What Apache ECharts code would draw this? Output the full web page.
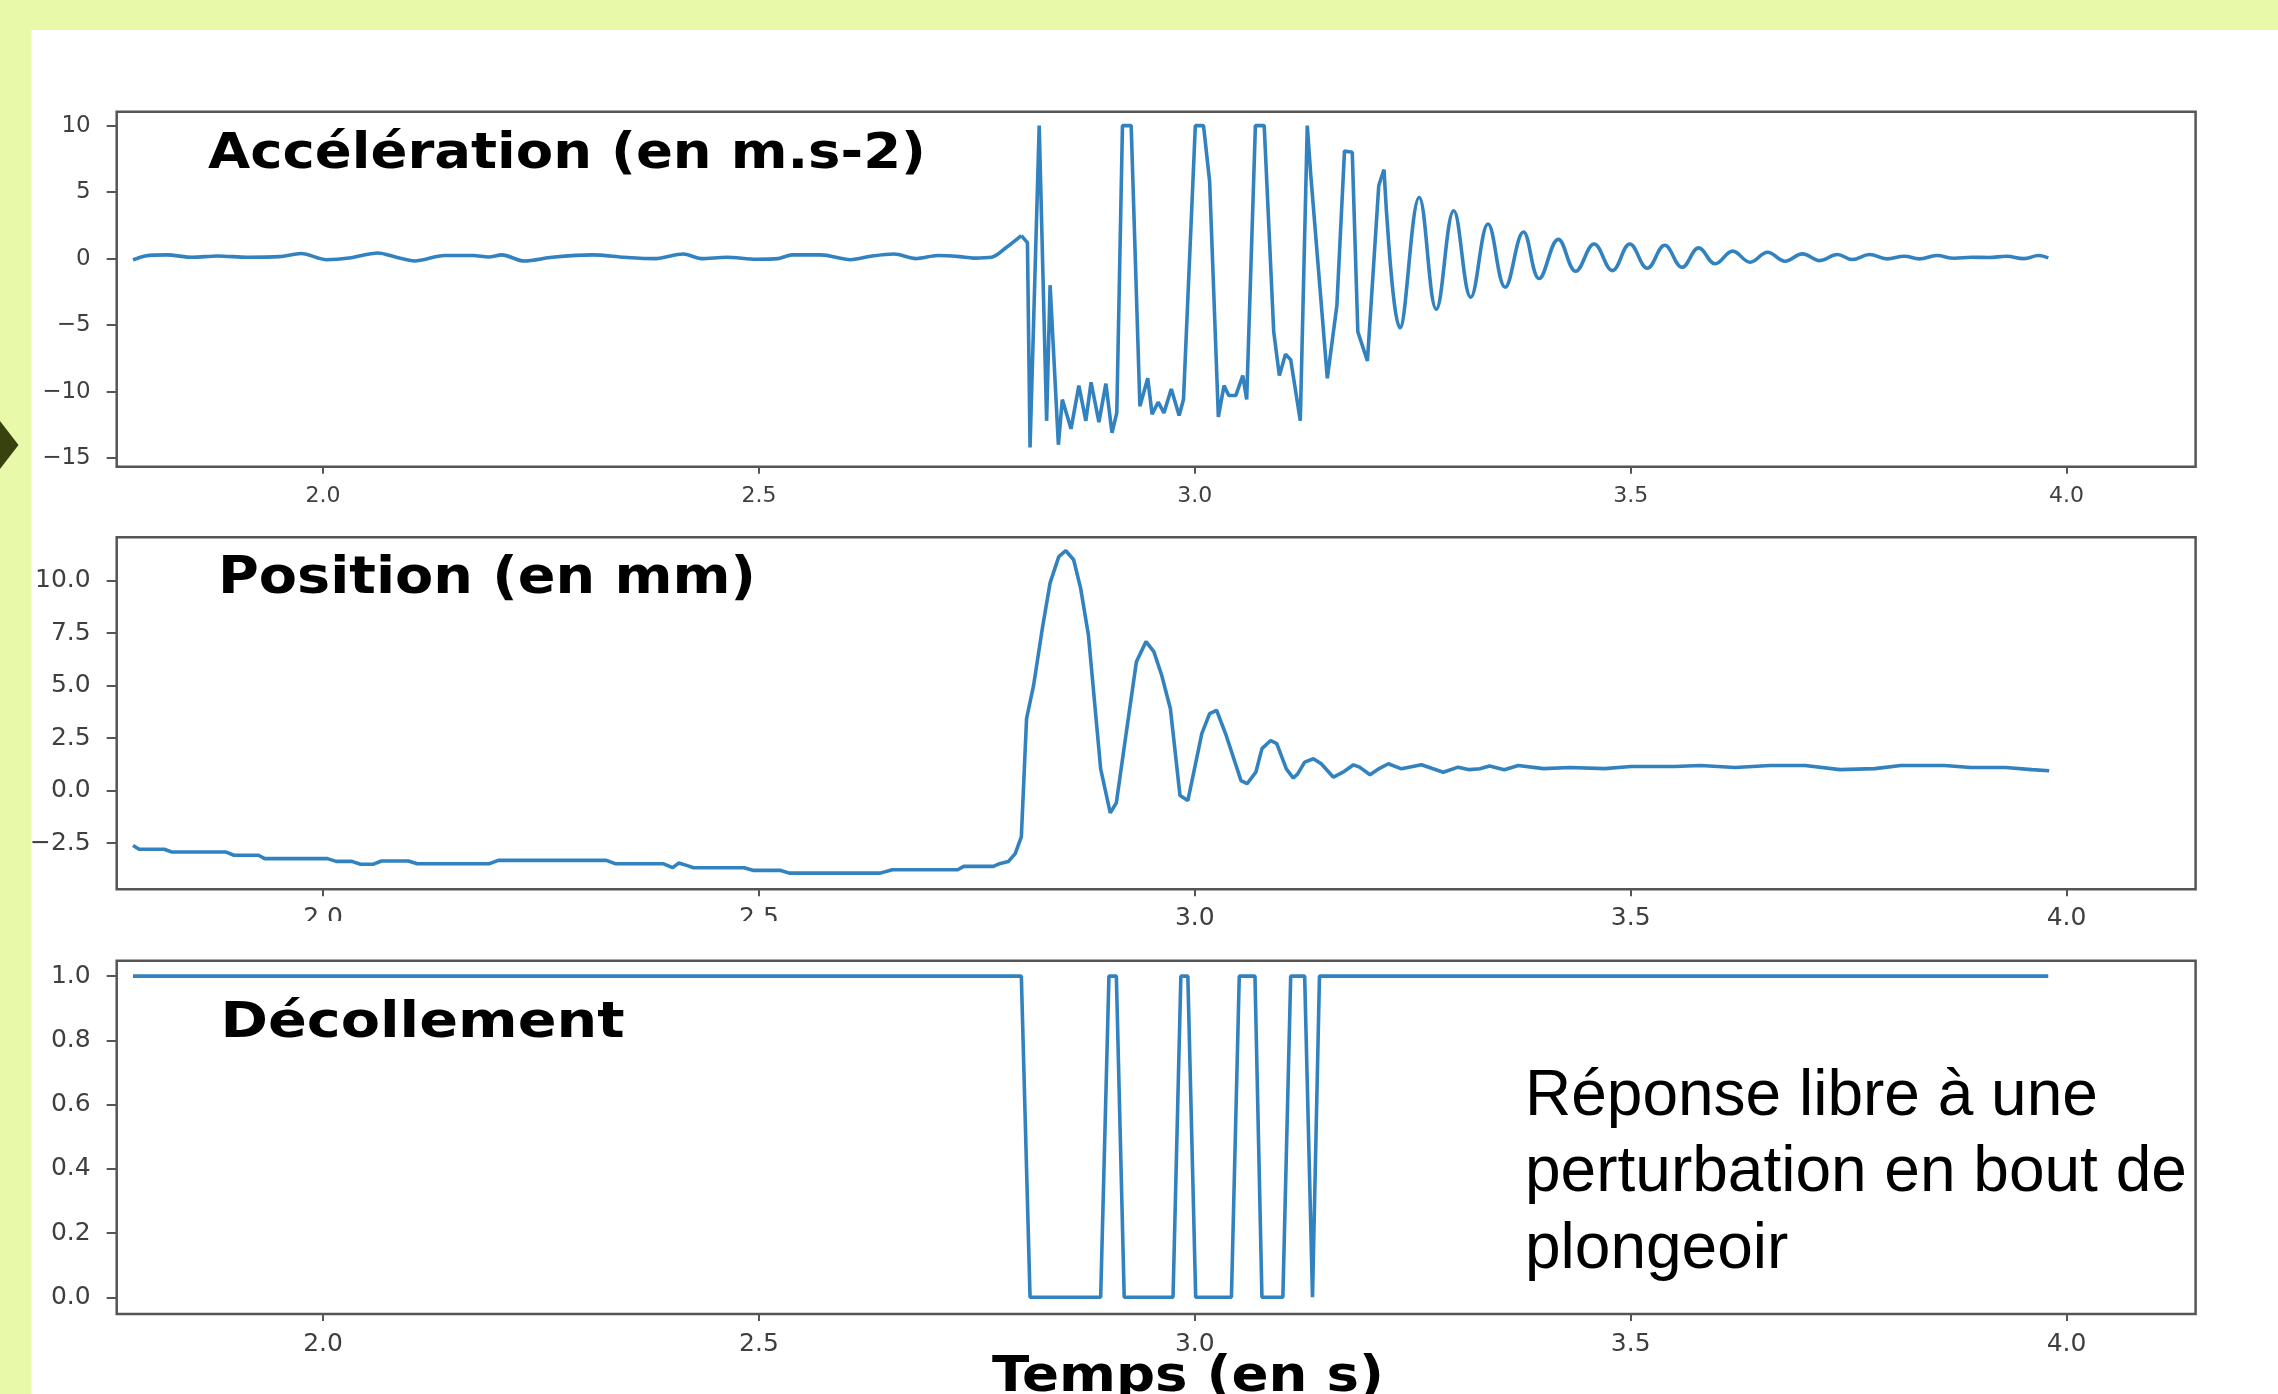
<!DOCTYPE html>
<html>
<head>
<meta charset="utf-8">
<script src="https://cdn.jsdelivr.net/npm/echarts@6.0.0/dist/echarts.min.js"></script>
<style>
  html, body { margin: 0; padding: 0; background: #e8f9a9; overflow: hidden; }
  #chart { width: 2278px; height: 1394px; }
</style>
</head>
<body>
<div id="chart"></div>
<script>
// ---------- data ----------
const xTickValues = [2.0, 2.5, 3.0, 3.5, 4.0];
const xTickLabels = ['2.0', '2.5', '3.0', '3.5', '4.0'];

const accTickValues = [-15, -10, -5, 0, 5, 10];
const accTickLabels = ['\u221215', '\u221210', '\u22125', '0', '5', '10'];
const posTickValues = [-2.5, 0, 2.5, 5, 7.5, 10];
const posTickLabels = ['\u22122.5', '0.0', '2.5', '5.0', '7.5', '10.0'];
const decTickValues = [0, 0.2, 0.4, 0.6, 0.8, 1.0];
const decTickLabels = ['0.0', '0.2', '0.4', '0.6', '0.8', '1.0'];

const titles = ['Accélération (en m.s-2)', 'Position (en mm)', 'Décollement'];
const xAxisTitle = 'Temps (en s)';
const noteLines = ['Réponse libre à une', 'perturbation en bout de', 'plongeoir'];

// Acceleration (m.s-2)
const accTime = [
  1.782, 1.796, 1.821, 1.850, 1.879, 1.913, 1.950, 1.975, 2.004, 2.030,
  2.063, 2.084, 2.105, 2.139, 2.172, 2.190, 2.205, 2.231, 2.263, 2.309,
  2.346, 2.381, 2.413, 2.434, 2.463, 2.497, 2.522, 2.538, 2.571, 2.605,
  2.630, 2.655, 2.680, 2.705, 2.730, 2.746, 2.767, 2.784, 2.801,
  2.808, 2.811, 2.8215, 2.830, 2.834, 2.8435, 2.848, 2.858, 2.867, 2.875,
  2.881, 2.890, 2.898, 2.905, 2.9105, 2.917, 2.927, 2.937, 2.946, 2.951,
  2.958, 2.9646, 2.973, 2.982, 2.987, 3.0006, 3.010, 3.017, 3.027, 3.0335,
  3.039, 3.047, 3.055, 3.0595, 3.0695, 3.0796, 3.0905, 3.097, 3.104, 3.110,
  3.121, 3.129, 3.133, 3.152, 3.163, 3.1717, 3.1806, 3.187, 3.198, 3.211,
  3.217,
  3.2354, 3.2574, 3.277, 3.297, 3.3166, 3.3364, 3.356, 3.377, 3.395, 3.417,
  3.437, 3.458, 3.479, 3.499, 3.519, 3.539, 3.559, 3.578, 3.597, 3.617,
  3.637, 3.657, 3.677, 3.697, 3.717, 3.737, 3.754, 3.774, 3.794, 3.814,
  3.831, 3.851, 3.871, 3.891, 3.911, 3.931, 3.951, 3.968, 3.979
];
const accValue = [
  -0.1, 0.2, 0.28, 0.1, 0.2, 0.1, 0.15, 0.38, -0.08, 0.04,
  0.42, 0.1, -0.18, 0.23, 0.23, 0.12, 0.28, -0.18, 0.1, 0.28,
  0.1, 0.0, 0.35, 0.0, 0.1, -0.05, 0.0, 0.28, 0.28, -0.08,
  0.2, 0.35, 0.0, 0.23, 0.15, 0.04, 0.1, 0.85, 1.73,
  1.2, -14.2, 10, -12.2, -2.0, -14.0, -10.6, -12.8, -9.55, -12.2,
  -9.3, -12.3, -9.4, -13.1, -11.6, 10, 10, -11.1, -9.0, -11.7,
  -10.8, -11.6, -9.8, -11.8, -10.6, 10, 10, 5.8, -11.9, -9.55,
  -10.3, -10.3, -8.8, -10.6, 10, 10, -5.5, -8.8, -7.2, -7.6,
  -12.2, 10, 6.3, -9.0, -3.5, 8.1, 8.0, -5.5, -7.7, 5.5,
  6.7,
  -5.2, 4.6, -3.8, 3.6, -2.9, 2.6, -2.15, 2.0, -1.5, 1.45,
  -0.95, 1.1, -0.9, 1.1, -0.72, 1.0, -0.65, 0.81, -0.39, 0.56,
  -0.27, 0.48, -0.2, 0.36, -0.15, 0.31, -0.07, 0.31, -0.02, 0.18,
  -0.02, 0.23, 0.03, 0.1, 0.08, 0.18, 0.0, 0.23, 0.05
];
const accSplitTimes = [2.801, 3.217];

// Position (mm)
const posTime = [
  1.782, 1.789, 1.818, 1.826, 1.888, 1.898, 1.926, 1.933, 2.005, 2.015,
  2.033, 2.043, 2.057, 2.067, 2.098, 2.108, 2.191, 2.201, 2.325, 2.335,
  2.390, 2.401, 2.408, 2.417, 2.425, 2.483, 2.494, 2.525, 2.535, 2.639,
  2.653, 2.728, 2.735, 2.769, 2.776, 2.786, 2.794, 2.801, 2.807, 2.815,
  2.825, 2.834, 2.844, 2.852, 2.861, 2.869, 2.878, 2.892, 2.903, 2.910,
  2.922, 2.933, 2.944, 2.953, 2.962, 2.972, 2.983, 2.992, 2.998, 3.008,
  3.017, 3.025, 3.036, 3.053, 3.060, 3.070, 3.077, 3.087, 3.094, 3.105,
  3.113, 3.118, 3.126, 3.136, 3.145, 3.159, 3.170, 3.182, 3.189, 3.201,
  3.211, 3.222, 3.237, 3.260, 3.285, 3.302, 3.315, 3.327, 3.338, 3.355,
  3.371, 3.40, 3.43, 3.47, 3.50, 3.55, 3.58, 3.62, 3.66, 3.70,
  3.74, 3.78, 3.81, 3.86, 3.89, 3.93, 3.96, 3.98
];
const posValue = [
  -2.61, -2.79, -2.79, -2.92, -2.92, -3.08, -3.08, -3.24, -3.24, -3.37,
  -3.37, -3.51, -3.51, -3.35, -3.35, -3.48, -3.48, -3.32, -3.32, -3.48,
  -3.48, -3.67, -3.45, -3.56, -3.67, -3.67, -3.80, -3.80, -3.93, -3.93,
  -3.77, -3.77, -3.61, -3.61, -3.48, -3.38, -3.0, -2.2, 3.43, 5.0,
  7.7, 9.9, 11.15, 11.43, 11.0, 9.65, 7.4, 1.04, -1.06, -0.58,
  2.95, 6.14, 7.1, 6.62, 5.5, 3.9, -0.23, -0.47, 0.72, 2.72,
  3.67, 3.83, 2.63, 0.48, 0.33, 0.88, 2.0, 2.39, 2.24, 1.04,
  0.6, 0.8, 1.36, 1.52, 1.28, 0.64, 0.88, 1.23, 1.12, 0.76,
  1.04, 1.28, 1.04, 1.23, 0.88, 1.12, 1.0, 1.04, 1.17, 1.0,
  1.2, 1.05, 1.1, 1.05, 1.15, 1.15, 1.2, 1.1, 1.2, 1.2,
  1.0, 1.05, 1.2, 1.2, 1.1, 1.1, 1.0, 0.95
];

// Décollement (0 / 1)
const decTime = [
  1.782, 2.801, 2.811, 2.892, 2.9015, 2.910, 2.919, 2.975, 2.984, 2.992,
  3.001, 3.042, 3.051, 3.069, 3.077, 3.101, 3.110, 3.126, 3.135, 3.143, 3.979
];
const decValue = [
  1, 1, 0, 0, 1, 1, 0, 0, 1, 1,
  0, 0, 1, 1, 0, 0, 1, 1, 0, 1, 1
];

// ---------- helpers ----------
function pairs(ts, vs, from, to) {
  const out = [];
  for (let i = 0; i < ts.length; i++) {
    if (ts[i] >= from && ts[i] <= to) out.push([ts[i], vs[i]]);
  }
  return out;
}
function labelFn(vals, labels) {
  return function (v) {
    const i = vals.findIndex(function (x) { return Math.abs(x - v) < 1e-9; });
    return i >= 0 ? labels[i] : '';
  };
}
const measureCtx = document.createElement('canvas').getContext('2d');
function fitScale(text, font, target) {
  measureCtx.font = font;
  return target / measureCtx.measureText(text).width;
}

// ---------- layout ----------
const X_MIN = 1.7633, X_MAX = 4.148;
const LINE = '#3382c0';
const SPINE = '#555555';
const LABEL = '#3f3f3f';
const YELLOW = '#e8f9a9';
const grids = [
  { left: 116.7, right: 82.4, top: 111.7, height: 355 },
  { left: 116.7, right: 82.4, top: 537.3, height: 352 },
  { left: 116.7, right: 82.4, top: 960.7, height: 353.3 }
];
const yRanges = [[-15.65, 11.05], [-4.70, 12.07], [-0.052, 1.048]];
const yTicks = [[accTickValues, accTickLabels], [posTickValues, posTickLabels], [decTickValues, decTickLabels]];
const yLabelSizes = [23, 25, 25];
const xLabelSizes = [22, 25, 25];
const xMargins = [19, 17, 18];

const xAxes = grids.map(function (g, i) {
  return {
    type: 'value', gridIndex: i, min: X_MIN, max: X_MAX, position: 'bottom',
    axisLine: { show: false, onZero: false },
    splitLine: { show: false },
    axisTick: { show: true, inside: false, customValues: xTickValues, length: 7, lineStyle: { color: SPINE, width: 2 } },
    axisLabel: {
      customValues: xTickValues, formatter: labelFn(xTickValues, xTickLabels),
      margin: xMargins[i], fontSize: xLabelSizes[i], color: LABEL, fontFamily: 'DejaVu Sans'
    }
  };
});
const yAxes = grids.map(function (g, i) {
  return {
    type: 'value', gridIndex: i, min: yRanges[i][0], max: yRanges[i][1], position: 'left',
    axisLine: { show: false, onZero: false },
    splitLine: { show: false },
    axisTick: { show: true, inside: false, customValues: yTicks[i][0], length: 10, lineStyle: { color: SPINE, width: 2 } },
    axisLabel: {
      customValues: yTicks[i][0], formatter: labelFn(yTicks[i][0], yTicks[i][1]),
      margin: 26, fontSize: yLabelSizes[i], color: LABEL, fontFamily: 'DejaVu Sans',
      padding: [8, 0, 0, 0]
    }
  };
});

function lineSeries(data, xi, smooth) {
  return {
    type: 'line', xAxisIndex: xi, yAxisIndex: xi, data: data,
    symbol: 'none', smooth: smooth, clip: true,
    lineStyle: { color: LINE, width: 3.6 }, itemStyle: { color: LINE },
    silent: true
  };
}

const titleFont = function (s) { return 'bold ' + s + 'px "DejaVu Sans"'; };
const titleSpecs = [
  { text: titles[0], size: 50, x: 208, y: 155.0, w: 718 },
  { text: titles[1], size: 51.5, x: 218, y: 579.5, w: 538 },
  { text: titles[2], size: 50, x: 220.5, y: 1024.0, w: 404 },
  { text: xAxisTitle, size: 50, x: 992, y: 1378.5, w: 392 }
];
const noteFont = '64px "Liberation Sans"';
const noteY = [1097, 1173.7, 1250.4];

const graphics = [];
titleSpecs.forEach(function (t) {
  const f = titleFont(t.size);
  graphics.push({
    type: 'text', x: t.x, y: t.y, scaleX: fitScale(t.text, f, t.w), z: 50,
    style: { text: t.text, font: f, fill: '#000000', textAlign: 'left', textVerticalAlign: 'middle' }
  });
});
noteLines.forEach(function (s, i) {
  graphics.push({
    type: 'text', x: 1525, y: noteY[i], z: 50,
    style: { text: s, font: noteFont, fill: '#000000', textAlign: 'left', textVerticalAlign: 'middle' }
  });
});
// covered part of the middle panel's first tick labels
graphics.push({ type: 'rect', z: 60, shape: { x: 280, y: 921, width: 535, height: 34 }, style: { fill: '#ffffff' } });
// yellow frame and marker
graphics.push({ type: 'rect', z: 100, shape: { x: 0, y: 0, width: 2278, height: 30 }, style: { fill: YELLOW } });
graphics.push({ type: 'rect', z: 100, shape: { x: 0, y: 0, width: 31.5, height: 1394 }, style: { fill: YELLOW } });
graphics.push({ type: 'polygon', z: 101, shape: { points: [[0, 421], [18.5, 445], [0, 469]] }, style: { fill: '#38420f' } });

const chart = echarts.init(document.getElementById('chart'), null, { renderer: 'canvas', width: 2278, height: 1394 });
chart.setOption({
  animation: false,
  backgroundColor: '#ffffff',
  grid: grids.map(function (g) {
    return Object.assign({ show: true, borderColor: SPINE, borderWidth: 2.5, backgroundColor: 'transparent' }, g);
  }),
  xAxis: xAxes,
  yAxis: yAxes,
  series: [
    lineSeries(pairs(accTime, accValue, 0, accSplitTimes[0]), 0, 0.3),
    lineSeries(pairs(accTime, accValue, accSplitTimes[0], accSplitTimes[1]), 0, false),
    lineSeries(pairs(accTime, accValue, accSplitTimes[1], 10), 0, 0.4),
    lineSeries(pairs(posTime, posValue, 0, 10), 1, false),
    lineSeries(pairs(decTime, decValue, 0, 10), 2, false)
  ],
  graphic: graphics
});
</script>
</body>
</html>
